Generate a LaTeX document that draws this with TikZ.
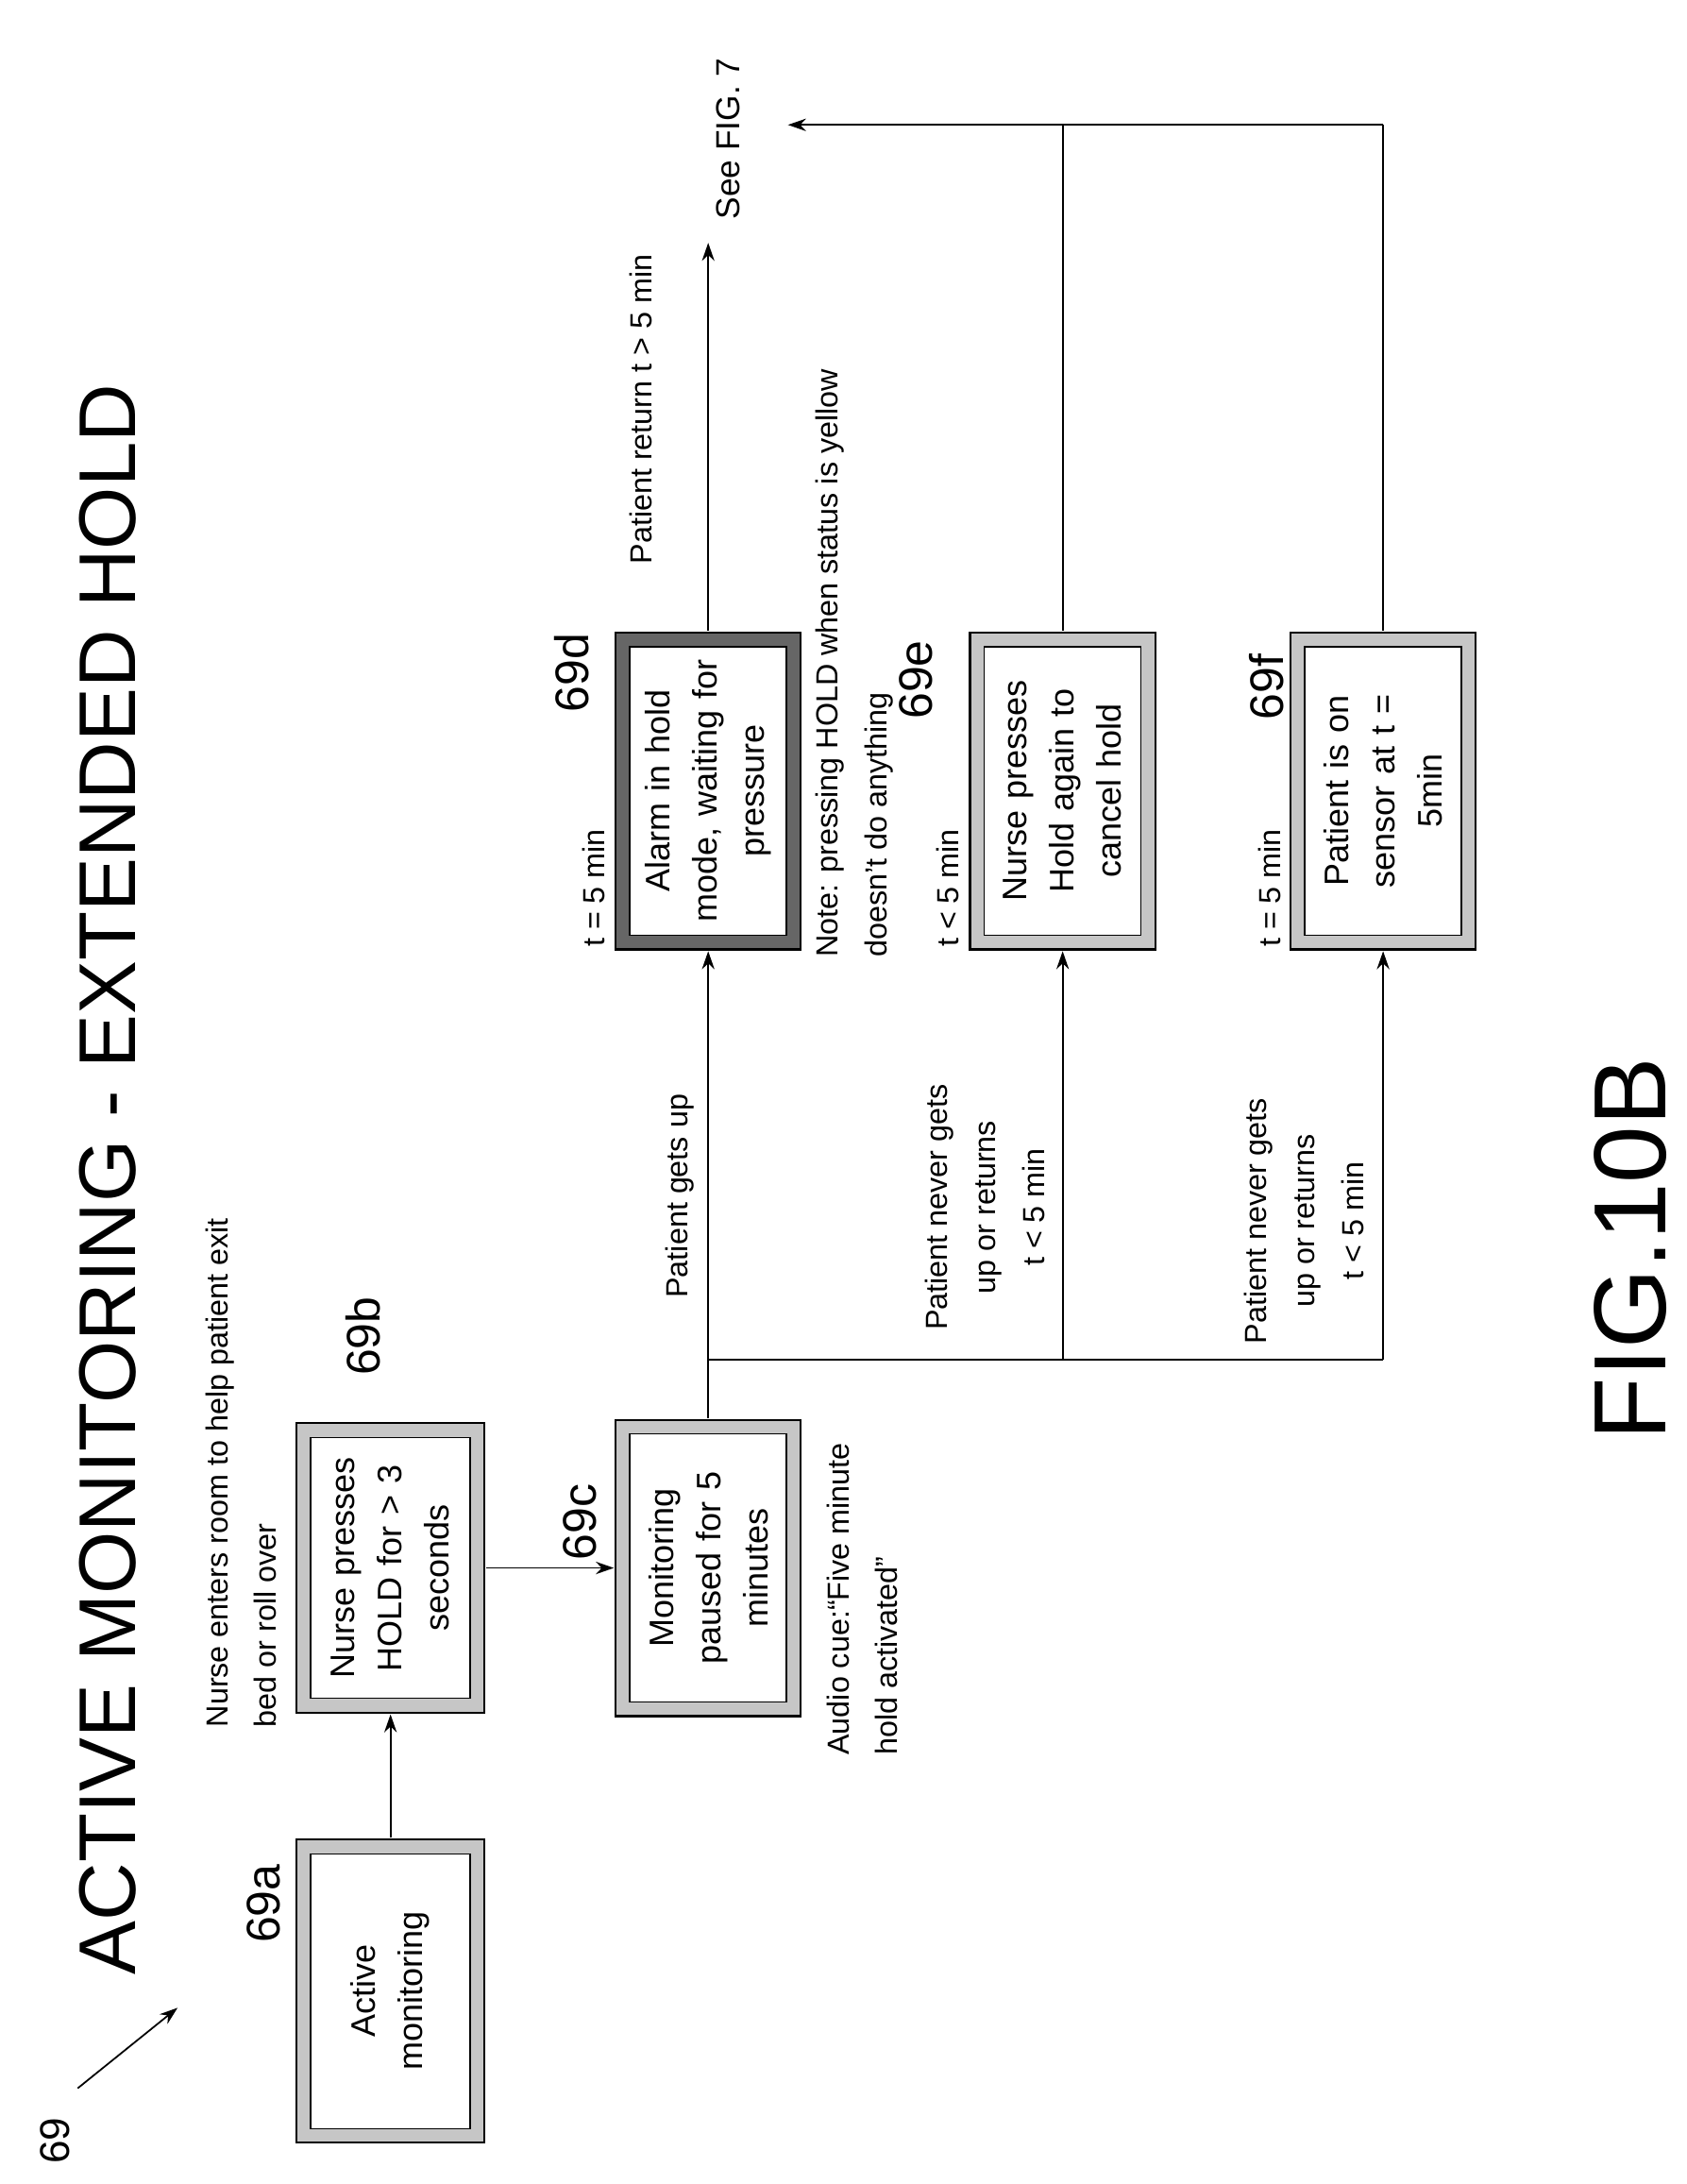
\documentclass[tikz,border=0pt]{standalone}
\usepackage{fontspec}
\setmainfont{Liberation Sans}
\usetikzlibrary{arrows.meta}
\begin{document}
\begin{tikzpicture}[x=1pt,y=-1pt,
  box/.style={rotate=90,draw=black,line width=1pt,fill=white,align=center,
    inner sep=2pt,font=\fontsize{24.5}{34}\selectfont,
    preaction={draw=black,line width=22pt},
    preaction={draw=gray!45,line width=19pt}},
  dbox/.style={box,preaction={draw=black,line width=22pt},preaction={draw=gray!80!black,line width=19pt}},
  lab/.style={rotate=90,font=\fontsize{22}{35}\selectfont,inner sep=0pt},
  num/.style={rotate=90,font=\fontsize{34}{40}\selectfont,inner sep=0pt},
  ln/.style={line width=1.2pt},
  arr/.style={ln,-{Stealth[length=13pt,width=9pt]}}]
\useasboundingbox (0,0) rectangle (1216,1574);
\node[box,minimum width=198pt,minimum height=115pt,text width=180pt] (a) at (281.5,1435) {Active\\monitoring};
\node[box,minimum width=188pt,minimum height=115pt,text width=180pt] (b) at (281.5,1130) {Nurse presses\\HOLD for > 3\\seconds};
\node[box,minimum width=193pt,minimum height=113pt,text width=185pt] (c) at (510.5,1130) {Monitoring\\paused for 5\\minutes};
\node[dbox,minimum width=208pt,minimum height=113pt,text width=204pt] (d) at (510.5,570) {Alarm in hold\\mode, waiting for\\pressure};
\node[box,minimum width=208pt,minimum height=113pt,text width=204pt] (e) at (766,570) {Nurse presses\\Hold again to\\cancel hold};
\node[box,minimum width=208pt,minimum height=113pt,text width=204pt] (f) at (997,570) {Patient is on\\sensor at t =\\5min};
\coordinate (j1) at (510.5,980);
\coordinate (j2) at (766,980);
\coordinate (j3) at (997,980);
\coordinate (see) at (510.5,175);
\coordinate (k1) at (568,90);
\coordinate (k2) at (766,90);
\coordinate (k3) at (997,90);
\draw[arr,shorten <=11pt,shorten >=11pt] (a) -- (b);
\draw[arr,shorten <=11pt,shorten >=11pt] (b) -- (c);
\draw[ln,shorten <=11pt] (c) -- (j1);
\draw[ln] (j1) -- (j3);
\draw[arr,shorten >=11pt] (j1) -- (d);
\draw[arr,shorten >=11pt] (j2) -- (e);
\draw[arr,shorten >=11pt] (j3) -- (f);
\draw[arr,shorten <=11pt] (d) -- (see);
\draw[ln,shorten <=11pt] (e) -- (k2);
\draw[ln,shorten <=11pt] (f) -- (k3);
\draw[arr] (k3) -- (k1);
\node[rotate=90,font=\fontsize{58}{60}\selectfont,inner sep=0pt] (title) at (78,850) {ACTIVE MONITORING - EXTENDED HOLD};
\node[rotate=90,font=\fontsize{74}{80}\selectfont,inner sep=0pt] (fig) at (1175,900) {FIG.10B};
\node[num,font=\fontsize{30}{34}\selectfont] (n69) at (40,1543) {69};
\coordinate (s69) at (56,1505);
\coordinate (p69) at (128,1447);
\draw[arr] (s69) -- (p69);
\node[num] (l69a) at (190,1372) {69a};
\node[num] (l69b) at (262,963) {69b};
\node[num] (l69c) at (418,1097) {69c};
\node[num] (l69d) at (412,485) {69d};
\node[num] (l69e) at (660,490) {69e};
\node[num] (l69f) at (913,495) {69f};
\node[lab] (t1) at (428,640) {t = 5 min};
\node[lab] (t2) at (683,640) {t < 5 min};
\node[lab] (t3) at (915,640) {t = 5 min};
\node[lab,anchor=north west,align=left] (nurse) at (148,1245) {Nurse enters room to help patient exit\\bed or roll over};
\node[lab,anchor=north west,align=left] (audio) at (596,1265) {Audio cue:``Five minute\\hold activated''};
\node[lab] (up) at (490,862) {Patient gets up};
\node[lab,align=center] (nv1) at (710,870) {Patient never gets\\up or returns\\t < 5 min};
\node[lab,align=center] (nv2) at (940,880) {Patient never gets\\up or returns\\t < 5 min};
\node[lab,anchor=north west,align=left] (note) at (588,690) {Note: pressing HOLD when status is yellow\\doesn't do anything};
\node[lab] (ret) at (462,295) {Patient return t > 5 min};
\node[lab,font=\fontsize{24}{30}\selectfont] (seefig) at (525,100) {See FIG. 7};
\end{tikzpicture}
\end{document}
